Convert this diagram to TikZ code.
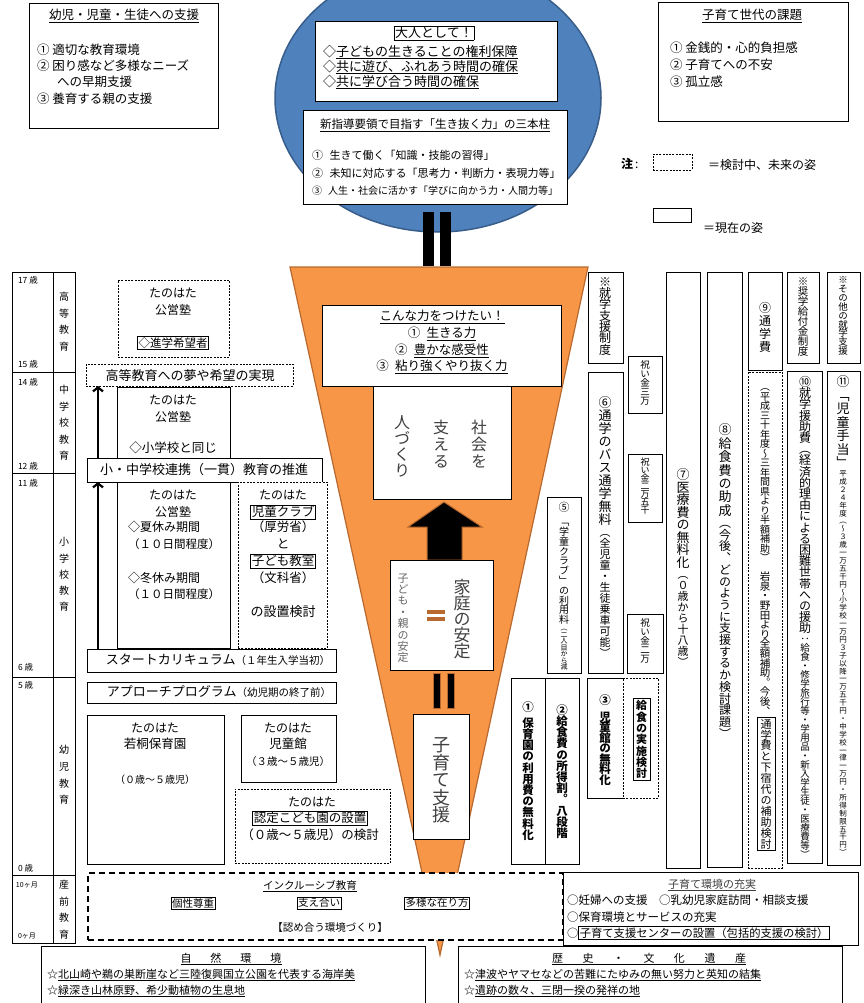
\documentclass[tikz,border=0pt]{standalone}
\usepackage{fontspec}
\setmainfont{Noto Sans CJK JP}
\newfontfamily\vfont[RawFeature=+vert]{Noto Sans CJK JP}
\usetikzlibrary{arrows.meta}
\definecolor{ebl}{HTML}{4F81BD}
\definecolor{ebd}{HTML}{385D8A}
\definecolor{cone}{HTML}{F79646}
\definecolor{coned}{HTML}{B9692F}
\definecolor{dg}{HTML}{404040}
\newcommand\fs[1]{\fontsize{#1}{#1}\selectfont}
\makeatletter
\def\vt@end{\relax vtend}
\newcommand\vt[2]{\vbox{\offinterlineskip\def\vt@p{#1}\vt@a#2\vt@end}}
\def\vt@a#1{\ifx#1\vt@end\else\hbox to 1em{\hss\vbox to \vt@p pt{\vss\hbox{\vrule height .88em depth .12em width 0pt\relax#1}\vss}\hss}\expandafter\vt@a\fi}
\makeatother
\setlength{\fboxsep}{0.8pt}
\setlength{\fboxrule}{0.7pt}
\tikzset{
  bxs/.style={draw, fill=white, inner sep=0, outer sep=0, line width=0.8pt},
  dsh/.style={dash pattern=on 2pt off 1.3pt, line width=0.7pt},
  hdsh/.style={dash pattern=on 6pt off 4pt, line width=1.3pt},
  txt/.style={inner sep=0, outer sep=0},
  vtx/.style={inner sep=0, outer sep=0, anchor=north},
  vbox/.style={vtx, draw, line width=0.8pt, inner xsep=0, inner ysep=1.5pt},
  bar/.style={fill=black, draw=coned, line width=0.8pt},
  arr/.style={line width=2.2pt, -{Straight Barb[length=4pt,width=10pt]}},
  tbl/.style={line width=0.9pt}
}
\newcommand\bx[6][]{\node[bxs,minimum width={(#4-#2)*1pt},minimum height={(#5-#3)*1pt},anchor=north west,#1] (#6) at (#2,#3) {};}
\begin{document}
\begin{tikzpicture}[x=1pt,y=-1pt]
\useasboundingbox (0,0) rectangle (863,1003);
\clip (0,0) rectangle (863,1003);
\fill[white] (0,0) rectangle (863,1003);

% ---------- top left
\bx{29}{3}{218}{128}{tl}
\node[txt,font=\fs{12.5}] (tlT) at (124,16) {\underline{幼児・児童・生徒への支援}};
\node[txt,font=\fs{12.5},anchor=west] (tl1) at (37,50) {① 適切な教育環境};
\node[txt,font=\fs{12.5},anchor=west] (tl2) at (37,66) {② 困り感など多様なニーズ};
\node[txt,font=\fs{12.5},anchor=west] (tl3) at (57,82) {への早期支援};
\node[txt,font=\fs{12.5},anchor=west] (tl4) at (37,99) {③ 養育する親の支援};

% ---------- ellipse
\draw[fill=ebl, draw=ebd, line width=1.5pt] (438,98) ellipse [x radius=163, y radius=134];
\bx{315}{21}{557}{101}{adult}
\node[txt,font=\fs{13}] (adultT) at (434,33) {\fbox{大人として！}};
\node[txt,font=\fs{13},anchor=west] (adult1) at (323,52) {◇\underline{子どもの生きることの権利保障}};
\node[txt,font=\fs{13},anchor=west] (adult2) at (323,67) {◇\underline{共に遊び、ふれあう時間の確保}};
\node[txt,font=\fs{13},anchor=west] (adult3) at (323,82) {◇\underline{共に学び合う時間の確保}};
\bx{303}{110}{567}{204}{shin}
\node[txt,font=\fs{11.5}] (shinT) at (435,125) {\underline{新指導要領で目指す「生き抜く力」の三本柱}};
\node[txt,font=\fs{11},anchor=west] (shin1) at (312,155) {①\hspace{0.6em}生きて働く「知識・技能の習得」};
\node[txt,font=\fs{11},anchor=west] (shin2) at (312,173) {②\hspace{0.6em}未知に対応する「思考力・判断力・表現力等」};
\node[txt,font=\fs{10},anchor=west] (shin3) at (312,191) {③\hspace{0.6em}人生・社会に活かす「学びに向かう力・人間力等」};
\fill[black] (423,212) rectangle (434,266);
\fill[black] (440,212) rectangle (451,266);

% ---------- top right
\bx{658}{2}{848}{121}{tr}
\node[txt,font=\fs{12.5}] (trT) at (752,16) {\underline{子育て世代の課題}};
\node[txt,font=\fs{12.5},anchor=west] (tr1) at (670,48) {① 金銭的・心的負担感};
\node[txt,font=\fs{12.5},anchor=west] (tr2) at (670,65) {② 子育てへの不安};
\node[txt,font=\fs{12.5},anchor=west] (tr3) at (670,82) {③ 孤立感};

% legend
\node[txt,font=\fs{12},anchor=west] (chu) at (621,164) {\textbf{注}\,:};
\bx[dsh]{653}{154}{692}{170}{legD}
\node[txt,font=\fs{12},anchor=west] (legDt) at (708,165) {＝検討中、未来の姿};
\bx{653}{208}{691}{222}{legS}
\node[txt,font=\fs{12},anchor=west] (legSt) at (703,228) {＝現在の姿};

% ---------- age table
\draw[tbl] (12,272) rectangle (75,943);
\draw[tbl] (53,272) -- (53,943);
\foreach \yy in {372,473,677,875} \draw[tbl] (12,\yy) -- (75,\yy);
\node[txt,font=\fs{8.5},anchor=west] (a17) at (18,280) {17 歳};
\node[txt,font=\fs{8.5},anchor=west] (a15) at (18,364) {15 歳};
\node[txt,font=\fs{8.5},anchor=west] (a14) at (18,382) {14 歳};
\node[txt,font=\fs{8.5},anchor=west] (a12) at (18,466) {12 歳};
\node[txt,font=\fs{8.5},anchor=west] (a11) at (18,483) {11 歳};
\node[txt,font=\fs{8.5},anchor=west] (a6) at (18,667) {6 歳};
\node[txt,font=\fs{8.5},anchor=west] (a5) at (18,685) {5 歳};
\node[txt,font=\fs{8.5},anchor=west] (a0) at (18,868) {0 歳};
\node[txt,font=\fs{7},anchor=west] (m10) at (16,885) {10ヶ月};
\node[txt,font=\fs{7},anchor=west] (m0) at (18,936) {0ヶ月};
\node[vtx,font=\vfont\fs{10}] (eK) at (64,288.75) {\vt{16.5}{高等教育}};
\node[vtx,font=\vfont\fs{10}] (eC) at (64,381.75) {\vt{16.5}{中学校教育}};
\node[vtx,font=\vfont\fs{10}] (eS) at (64,533.9) {\vt{16.25}{小学校教育}};
\node[vtx,font=\vfont\fs{10}] (eY) at (64,741.6) {\vt{16.7}{幼児教育}};
\node[vtx,font=\vfont\fs{10}] (eP) at (64,876.6) {\vt{16.5}{産前教育}};

% ---------- left boxes
\bx[dsh]{118}{280}{229}{357}{juku1}
\node[txt,font=\fs{12}] (juku1a) at (173,293) {たのはた};
\node[txt,font=\fs{12}] (juku1b) at (173,310) {公営塾};
\node[txt,font=\fs{11.5}] (juku1c) at (173,343) {\fbox{◇進学希望者}};
\bx[dsh]{86}{364}{293}{386}{koto}
\node[txt,font=\fs{13}] (kotot) at (190,376) {高等教育への夢や希望の実現};
\bx{117}{387}{230}{458}{juku2}
\node[txt,font=\fs{12}] (juku2a) at (173,400) {たのはた};
\node[txt,font=\fs{12}] (juku2b) at (173,417) {公営塾};
\node[txt,font=\fs{12.5}] (juku2c) at (173,448) {◇小学校と同じ};
\bx{87}{458}{322}{482}{shochu}
\node[txt,font=\fs{13}] (shochut) at (204,470) {小・中学校連携（一貫）教育の推進};
\bx{117}{482}{230}{648}{juku3}
\node[txt,font=\fs{12}] (juku3a) at (173,495) {たのはた};
\node[txt,font=\fs{12}] (juku3b) at (173,512) {公営塾};
\node[txt,font=\fs{12},anchor=west] (juku3c) at (128,527) {◇夏休み期間};
\node[txt,font=\fs{11.5}] (juku3d) at (174,544) {（１０日間程度）};
\node[txt,font=\fs{12},anchor=west] (juku3e) at (128,578) {◇冬休み期間};
\node[txt,font=\fs{11.5}] (juku3f) at (174,594) {（１０日間程度）};
\bx[dsh]{238}{482}{327}{648}{club}
\node[txt,font=\fs{12}] (cluba) at (283,495) {たのはた};
\node[txt,font=\fs{12.5}] (clubb) at (283,512) {\fbox{児童クラブ}};
\node[txt,font=\fs{12.5}] (clubc) at (283,527) {（厚労省）};
\node[txt,font=\fs{12.5}] (clubd) at (283,544) {と};
\node[txt,font=\fs{12.5}] (clube) at (283,561) {\fbox{子ども教室}};
\node[txt,font=\fs{12.5}] (clubf) at (283,578) {（文科省）};
\node[txt,font=\fs{13}] (clubg) at (283,612) {の設置検討};
\bx{87}{649}{336}{672}{start}
\node[txt,font=\fs{13}] (startt) at (218,660) {スタートカリキュラム{\fs{10.5}（１年生入学当初）}};
\bx{87}{682}{336}{703}{appr}
\node[txt,font=\fs{13}] (apprt) at (219,692) {アプローチプログラム{\fs{10.5}（幼児期の終了前）}};
\bx{87}{715}{224}{864}{hoiku}
\node[txt,font=\fs{12}] (hoikua) at (155,728) {たのはた};
\node[txt,font=\fs{12.5}] (hoikub) at (155,744) {若桐保育園};
\node[txt,font=\fs{10}] (hoikuc) at (155,780) {（０歳～５歳児）};
\bx{241}{715}{336}{782}{jidokan}
\node[txt,font=\fs{12}] (jidokana) at (288,728) {たのはた};
\node[txt,font=\fs{12.5}] (jidokanb) at (288,744) {児童館};
\node[txt,font=\fs{10.5}] (jidokanc) at (288,762) {（３歳～５歳児）};

% ---------- cone
\filldraw[fill=cone, draw=coned, line width=1.2pt] (290,267) -- (588,267) -- (440,955) -- cycle;

\bx[dsh]{235}{789}{390}{863}{kodomo}
\node[txt,font=\fs{12}] (kodomoa) at (312,802) {たのはた};
\node[txt,font=\fs{12.5}] (kodomob) at (310,818) {\fbox{認定こども園の設置}};
\node[txt,font=\fs{12.5}] (kodomoc) at (310,835) {（０歳～５歳児）の検討};

\coordinate (ax) at (98,0);
\draw[arr] (ax |- start.north) -- (ax |- shochu.south);
\draw[arr] (ax |- shochu.north) -- (ax |- koto.south);

\bx{322}{305}{561}{386}{chikara}
\node[txt,font=\fs{12.5}] (chik0) at (442,317) {\underline{こんな力をつけたい！}};
\node[txt,font=\fs{12.5}] (chik1) at (442,334) {①\hspace{0.5em}\underline{生きる力}};
\node[txt,font=\fs{12.5}] (chik2) at (442,351) {②\hspace{0.5em}\underline{豊かな感受性}};
\node[txt,font=\fs{12.5}] (chik3) at (442,367) {③\hspace{0.5em}\underline{粘り強くやり抜く力}};
\bx{373}{386}{511}{499}{shakai}
\node[vtx,font=\vfont\fs{16},text=dg] (shakai1) at (479,418.75) {\vt{17}{社会を}};
\node[vtx,font=\vfont\fs{16},text=dg] (shakai2) at (441,418.75) {\vt{17}{支える}};
\node[vtx,font=\vfont\fs{16},text=dg] (shakai3) at (402,414.75) {\vt{16}{人づくり}};
\filldraw[fill=black, draw=coned, line width=1pt] (444,502) -- (482,527) -- (462,527) -- (462,560) -- (427,560) -- (427,527) -- (408,527) -- cycle;
\bx{390}{560}{493}{670}{katei}
\node[vtx,font=\vfont\fs{17},text=dg] (kateia) at (462,579) {\vt{16}{家庭の安定}};
\node[vtx,font=\vfont\fs{11},text=dg!80] (kateib) at (403,572.3) {\vt{11.4}{子ども・親の安定}};
\fill[coned] (427,610) rectangle (445,614);
\fill[coned] (427,617) rectangle (445,621);
\filldraw[bar] (433,673) rectangle (440,708);
\filldraw[bar] (447,673) rectangle (454,708);
\bx{413}{714}{469}{839}{kosodate}
\node[vtx,font=\vfont\fs{18},text=dg] (kosodatet) at (441,736.25) {\vt{17.5}{子育て支援}};

% ---------- right columns
\bx{588}{272}{623}{363}{cI}
\node[vtx,font=\vfont\fs{12}] (cIt) at (605,276) {\vt{11.3}{※就学支援制度}};
\bx{588}{372}{623}{673}{cJ}
\node[vtx,font=\vfont\fs{13}] (cJa) at (605,396.5) {\vt{13}{⑥通学のバス通学無料}};
\node[vtx,font=\vfont\fs{11}] (cJb) at (cJa.south) {\vt{11}{（全児童・生徒乗車可能）}};
\bx{628}{356}{662}{413}{cF}
\node[vtx,font=\vfont\fs{9.5}] (cFt) at (645,360.5) {\vt{9}{祝い金三万}};
\bx{628}{454}{662}{522}{cG}
\node[vtx,font=\vfont\fs{9}] (cGt) at (645,458) {\vt{8}{祝い金二万五千}};
\bx{627}{614}{663}{673}{cH}
\node[vtx,font=\vfont\fs{9.5}] (cHt) at (645,618.5) {\vt{9}{祝い金二万}};
\bx{547}{497}{581}{673}{cA}
\node[vtx,font=\vfont\fs{11}] (cAa) at (564,501.5) {\vt{11}{⑤}};
\node[vtx,font=\vfont\fs{10}] (cAb) at (564,517) {\vt{9.8}{「学童クラブ」の利用料}};
\node[vtx,font=\vfont\fs{7}] (cAc) at (cAb.south) {\vt{6.5}{（二人目から減}};
\bx{511}{678}{545}{864}{cB}
\node[vtx,font=\vfont\bfseries\fs{11.5}] (cBa) at (528,701) {\vt{12}{①}};
\node[vtx,font=\vfont\bfseries\fs{11.5}] (cBb) at (528,717.4) {\vt{11.2}{保育園の利用費の無料化}};
\bx{545}{678}{579}{864}{cC}
\node[vtx,font=\vfont\bfseries\fs{11.5}] (cCt) at (562,704.4) {\vt{11.2}{②給食費の所得割。八段階}};
\bx{587}{678}{623}{798}{cD}
\node[vtx,font=\vfont\bfseries\fs{11.5}] (cDa) at (605,694) {\vt{12}{③}};
\node[vtx,font=\vfont\bfseries\fs{11.5}] (cDb) at (605,711.75) {\vt{10.5}{児童館の無料化}};
\bx[dsh]{623}{678}{658}{798}{cE}
\node[vbox,minimum width=17pt,font=\vfont\bfseries\fs{11}] (cEt) at (641.5,698.5) {\vt{11.3}{給食の実施検討}};
\bx{666}{272}{700}{868}{cK}
\node[vtx,font=\vfont\fs{13}] (cKa) at (683,468.75) {\vt{12.5}{⑦医療費の無料化}};
\node[vtx,font=\vfont\fs{11}] (cKb) at (cKa.south) {\vt{11}{（０歳から十八歳）}};
\bx{707}{272}{742}{867}{cL}
\node[vtx,font=\vfont\fs{13}] (cLa) at (725,423.3) {\vt{13.4}{⑧給食費の助成}};
\node[vtx,font=\vfont\fs{12}] (cLb) at (cLa.south) {\vt{11.7}{（今後、どのように支援するか検討課題）}};
\bx{748}{272}{782}{370}{cM}
\node[vtx,font=\vfont\fs{12}] (cMt) at (765,301.5) {\vt{13}{⑨通学費}};
\bx[dsh]{748}{372}{782}{868}{cN}
\node[vtx,font=\vfont\fs{10}] (cNa) at (765,382.25) {\vt{9.5}{（平成三十年度～三年間県より半額補助）}};
\node[vtx,font=\vfont\fs{10.5}] (cNb) at (765,572) {\vt{9.6}{岩泉・野田より全額補助。今後、}};
\node[vbox,minimum width=18pt,font=\vfont\fs{11}] (cNc) at (766,717) {\vt{10.9}{通学費と下宿代の補助検討}};
\bx{787}{272}{819}{363}{cO}
\node[vtx,font=\vfont\fs{10.5}] (cOt) at (803,277) {\vt{10}{※奨学給付金制度}};
\bx{787}{371}{822}{863}{cP}
\node[vtx,font=\vfont\fs{12}] (cPa) at (805,376.4) {\vt{11.2}{⑩就学援助費（経済的理由による困難世帯への援助}};
\node[vtx,font=\vfont\fs{9.5}] (cPb) at (cPa.south) {\vt{9}{：給食・修学旅行等・学用品・新入学生徒・医療費等）}};
\bx{827}{272}{860}{363}{cQ}
\node[vtx,font=\vfont\fs{9.5}] (cQt) at (843,275.5) {\vt{8.9}{※その他の就学支援}};
\bx{827}{371}{860}{865}{cR}
\node[vtx,font=\vfont\fs{13}] (cRa) at (843,375.25) {\vt{13.5}{⑪「児童手当」}};
\node[vtx,font=\vfont\fs{7.5}] (cRb) at (cRa.south) {\vt{7.9}{平成２４年度（～３歳一万五千円～小学校一万円３子以降一万五千円・中学校一律一万円・所得制限五千円）}};

% ---------- bottom
\bx[hdsh]{88}{873}{563}{940}{incl}
\node[txt,font=\fs{10.5}] (inclT) at (310,886) {\underline{インクルーシブ教育}};
\node[txt,font=\fs{10.5}] (incl1) at (193,903) {\fbox{個性尊重}};
\node[txt,font=\fs{10.5}] (incl2) at (319,903) {\fbox{支え合い}};
\node[txt,font=\fs{10.5}] (incl3) at (437,903) {\fbox{多様な在り方}};
\node[txt,font=\fs{10.5}] (incl4) at (330,927) {【認め合う環境づくり】};
\bx{563}{872}{858}{945}{kankyo}
\node[txt,font=\fs{11},text=dg] (kankyoT) at (712,885) {\underline{子育て環境の充実}};
\node[txt,font=\fs{11.5},anchor=west] (kankyo1) at (567,900) {○妊婦への支援　○乳幼児家庭訪問・相談支援};
\node[txt,font=\fs{11.5},anchor=west] (kankyo2) at (567,917) {○保育環境とサービスの充実};
\node[txt,font=\fs{11.3},anchor=west] (kankyo3) at (567,933) {○\fbox{子育て支援センターの設置（包括的支援の検討）}};
\bx{41}{946}{425}{1010}{shizen}
\node[txt,font=\fs{11}] (shizenT) at (231,959) {\underline{自\hspace{19pt}然\hspace{19pt}環\hspace{19pt}境}};
\node[txt,font=\fs{11},anchor=west] (shizen1) at (47,975) {☆\underline{北山崎や鵜の巣断崖など三陸復興国立公園を代表する海岸美}};
\node[txt,font=\fs{11},anchor=west] (shizen2) at (47,991) {☆\underline{緑深き山林原野、希少動植物の生息地}};
\bx{458}{946}{842}{1010}{rekishi}
\node[txt,font=\fs{11}] (rekishiT) at (649,959) {\underline{歴\hspace{19.5pt}史\hspace{19.5pt}・\hspace{19.5pt}文\hspace{19.5pt}化\hspace{19.5pt}遺\hspace{19.5pt}産}};
\node[txt,font=\fs{11},anchor=west] (rekishi1) at (464,975) {☆\underline{津波やヤマセなどの苦難にたゆみの無い努力と英知の結集}};
\node[txt,font=\fs{11},anchor=west] (rekishi2) at (464,991) {☆\underline{遺跡の数々、三閉一揆の発祥の地}};
\end{tikzpicture}
\end{document}
